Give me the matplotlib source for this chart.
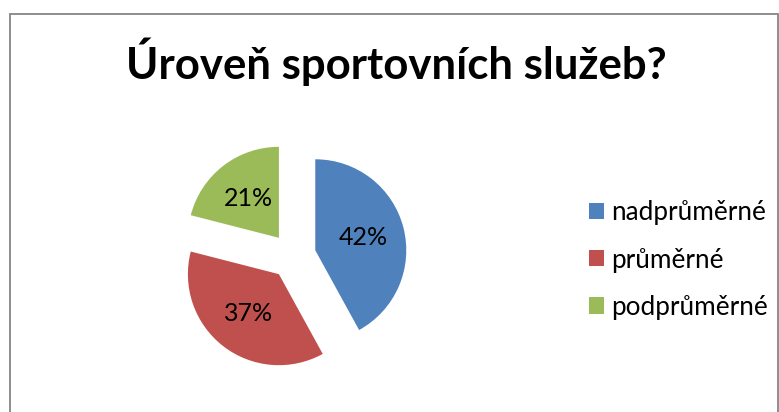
import matplotlib
matplotlib.use("Agg")
import matplotlib.pyplot as plt
from matplotlib.patches import Rectangle, Patch

categories = ["nadprůměrné", "průměrné", "podprůměrné"]
values = [42, 37, 21]
colors = ["#4F81BD", "#C0504D", "#9BBB59"]
title = "Úroveň sportovních služeb?"

W, H = 779, 412
fig = plt.figure(figsize=(W / 100, H / 100), dpi=100)
ax = fig.add_axes([0, 0, 1, 1])

font = "Lato"

wedges, texts, autotexts = ax.pie(
    values,
    colors=colors,
    startangle=90,
    counterclock=False,
    explode=[23] * len(values),
    center=(293, H - 256),
    radius=91,
    autopct="%d%%",
    pctdistance=0.55,
    textprops=dict(fontsize=18, family=font, color="black"),
    wedgeprops=dict(linewidth=0),
)
ax.set_xlim(0, W)
ax.set_ylim(0, H)
ax.set_aspect("equal")
ax.axis("off")

fig.text(396 / W, 1 - 79 / H, title, ha="center", va="baseline",
         fontsize=31.5, fontweight="bold", family=font)

handles = [Patch(facecolor=c, edgecolor="none") for c in colors]
leg = fig.legend(handles, categories, loc="center left",
                 bbox_to_anchor=(589 / W, 1 - 260 / H),
                 frameon=False, prop=dict(family=font, size=18.8),
                 handlelength=0.57, handleheight=0.57, handletextpad=0.27,
                 labelspacing=0.85, borderaxespad=0, borderpad=0)

fig.patches.append(Rectangle((9.5 / W, -0.05), (777.5 - 9.5) / W, 1.05 - 13.5 / H,
                             transform=fig.transFigure, fill=False,
                             edgecolor="#868686", linewidth=1.3))

fig.savefig("out.png", dpi=100)
